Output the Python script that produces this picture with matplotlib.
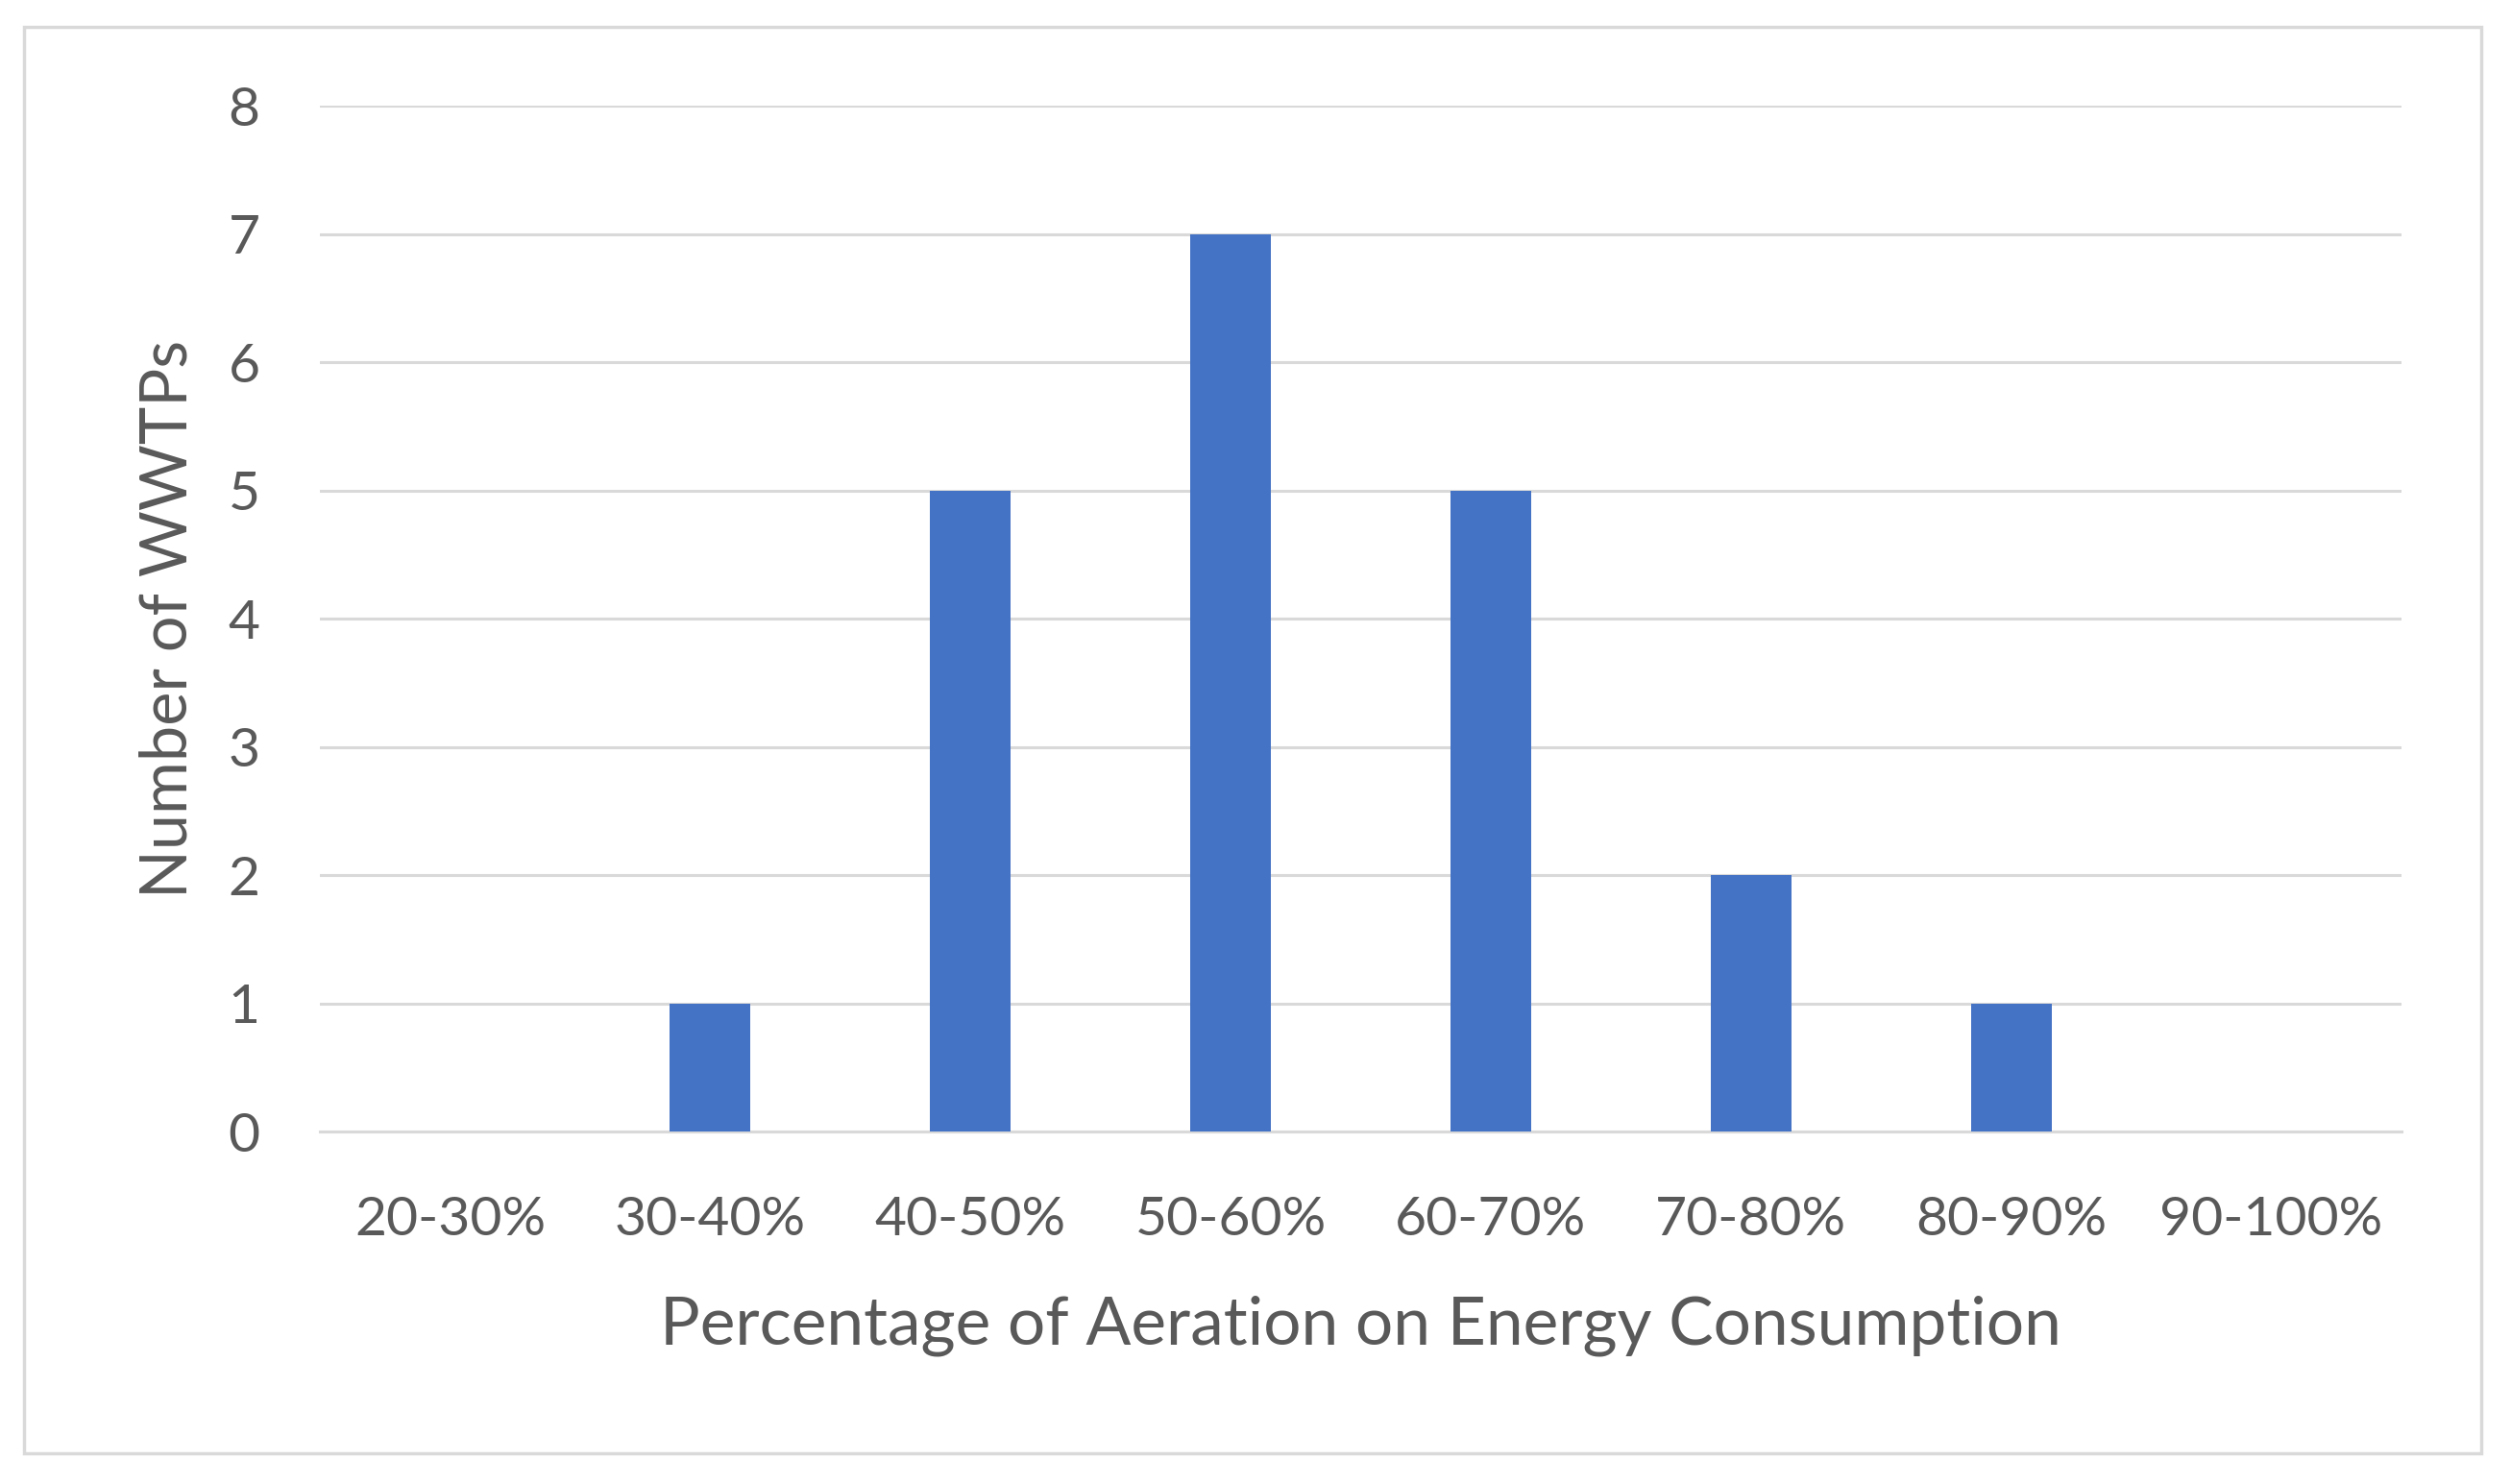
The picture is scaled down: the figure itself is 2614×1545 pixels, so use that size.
import matplotlib
matplotlib.use("Agg")
import matplotlib.pyplot as plt
from matplotlib.patches import Rectangle

plt.rcParams['font.family'] = ['Lato', 'DejaVu Sans']

categories = ["20-30%", "30-40%", "40-50%", "50-60%", "60-70%", "70-80%", "80-90%", "90-100%"]
counts = [0, 1, 5, 7, 5, 2, 1, 0]

BAR = '#4472C4'
TEXT = '#595959'
GRID = '#D9D9D9'

fig = plt.figure(figsize=(26.14, 15.45), dpi=100)
ax = fig.add_axes([0.1274, 0.2375, 0.829, 0.6913])

x = range(len(categories))
ax.bar(x, counts, width=0.31, color=BAR, zorder=3)

ax.set_xlim(-0.5, len(categories) - 0.5)
ax.set_ylim(0, 8)
ax.set_yticks(range(0, 9))
ax.set_xticks(list(x))
ax.set_xticklabels(categories)
ax.yaxis.grid(True, color=GRID, lw=2.2, zorder=0)
ax.set_axisbelow(True)
for s in ['top', 'right', 'left']:
    ax.spines[s].set_visible(False)
ax.spines['bottom'].set_color(GRID)
ax.spines['bottom'].set_linewidth(2.2)
ax.tick_params(axis='both', length=0, labelsize=41, colors=TEXT)
ax.tick_params(axis='y', pad=45)
ax.tick_params(axis='x', pad=48)

ax.set_xlabel('Percentage of Aeration on Energy Consumption', fontsize=50,
              color=TEXT, labelpad=38)
ax.set_ylabel('Number of WWTPs', fontsize=48, color=TEXT, labelpad=22)

# chart-area border
fig.patches.append(Rectangle((0.0096, 0.0207), 0.9784, 0.9613, transform=fig.transFigure,
                             fill=False, edgecolor=GRID, lw=2.5))

fig.savefig('out.png', dpi=100)
